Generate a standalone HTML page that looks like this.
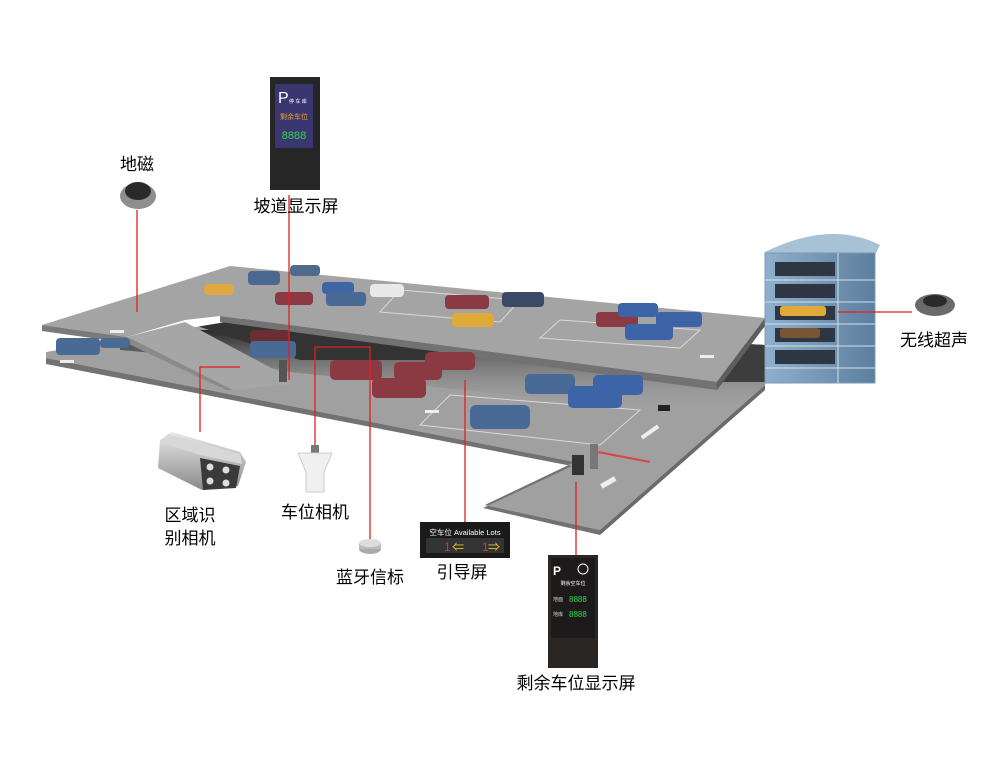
<!DOCTYPE html>
<html><head><meta charset="utf-8"><style>
html,body{margin:0;padding:0;background:#fff;}
svg{display:block}
text{font-family:"Liberation Sans","Noto Sans CJK SC",sans-serif;}
</style></head><body>
<svg width="1000" height="775" viewBox="0 0 1000 775" xmlns="http://www.w3.org/2000/svg">
<defs>
<linearGradient id="tw" x1="0" y1="0" x2="1" y2="0"><stop offset="0" stop-color="#8fb0cc"/><stop offset="1" stop-color="#5d7f9e"/></linearGradient>
<linearGradient id="cam" x1="0" y1="0" x2="0" y2="1"><stop offset="0" stop-color="#e8e8e8"/><stop offset="1" stop-color="#8a8a8a"/></linearGradient>
<linearGradient id="sh" x1="0" y1="0" x2="0" y2="1"><stop offset="0" stop-color="#2a2a2a"/><stop offset="1" stop-color="#9c9c9c" stop-opacity="0"/></linearGradient>
<clipPath id="ld"><polygon points="46,352 250,318 765,345 765,385 600,530 485,505 575,462 46,358"/></clipPath>
</defs>
<!-- lower deck -->
<polygon points="46,352 250,318 765,345 765,385 600,530 485,505 575,462 46,358" fill="#a0a0a0"/>
<polygon points="46,358 575,462 485,505 600,530 600,535 483,508 572,466 46,364" fill="#727272"/>
<polygon points="600,530 765,385 765,390 600,535" fill="#6a6a6a"/>
<!-- shadow under upper deck -->
<g clip-path="url(#ld)">
<polygon points="120,330 765,330 765,400 720,410 560,400 290,372 230,360 120,350" fill="url(#sh)"/>
<polygon points="185,322 220,316 470,345 440,360 300,360" fill="#333"/>
<polygon points="220,316 717,382 765,382 765,345 700,330" fill="#3d3d3d"/>
</g>
<!-- ramp -->
<polygon points="127,337 185,322 290,378 290,384 233,390" fill="#a6a6a6"/>
<polygon points="127,337 233,390 226,390 120,340" fill="#8a8a8a"/>
<!-- upper deck -->
<polygon points="42,325 230,266 765,318 717,382 220,316 185,320 127,337" fill="#a4a4a4"/>
<polygon points="42,325 127,337 127,343 42,331" fill="#7a7a7a"/>
<polygon points="220,316 717,382 717,390 220,322" fill="#727272"/>
<polygon points="717,382 765,318 765,326 717,390" fill="#5e5e5e"/>
<!-- parking lines -->
<g stroke="#e6e6e6" stroke-width="1" fill="none" opacity="0.8">
<polygon points="560,320 700,330 680,348 540,338"/>
<polygon points="400,290 520,300 500,322 380,312"/>
<polygon points="450,395 640,410 600,445 420,425"/>
</g>
<!-- cars -->
<g>
<rect x="204" y="284" width="30" height="11" rx="4" fill="#e0a940"/>
<rect x="248" y="271" width="32" height="14" rx="4" fill="#4a6890"/>
<rect x="290" y="265" width="30" height="11" rx="4" fill="#4f6a8a"/>
<rect x="275" y="292" width="38" height="13" rx="4" fill="#8b3a44"/>
<rect x="322" y="282" width="32" height="12" rx="4" fill="#3f67a8"/>
<rect x="326" y="292" width="40" height="14" rx="4" fill="#4a6a96"/>
<rect x="370" y="284" width="34" height="13" rx="4" fill="#e8e8ea"/>
<rect x="445" y="295" width="44" height="14" rx="4" fill="#8b3a44"/>
<rect x="502" y="292" width="42" height="15" rx="4" fill="#3a4a66"/>
<rect x="452" y="313" width="42" height="14" rx="4" fill="#e0aa38"/>
<rect x="596" y="312" width="42" height="15" rx="4" fill="#8b3a44"/>
<rect x="618" y="303" width="40" height="14" rx="4" fill="#3e64a8"/>
<rect x="656" y="312" width="46" height="15" rx="4" fill="#3e64a8"/>
<rect x="625" y="324" width="48" height="16" rx="4" fill="#3e64a8"/>
<rect x="56" y="338" width="44" height="17" rx="4" fill="#4a6a96"/>
<rect x="100" y="338" width="30" height="10" rx="4" fill="#4a6a96"/>
<rect x="250" y="330" width="40" height="14" rx="4" fill="#6a2e34"/>
<rect x="250" y="341" width="46" height="17" rx="4" fill="#4a6a96"/>
<rect x="330" y="360" width="52" height="20" rx="5" fill="#8b3a44"/>
<rect x="394" y="362" width="48" height="18" rx="5" fill="#8b3a44"/>
<rect x="372" y="378" width="54" height="20" rx="5" fill="#8b3a44"/>
<rect x="425" y="352" width="50" height="18" rx="5" fill="#8b3a44"/>
<rect x="525" y="374" width="50" height="20" rx="5" fill="#4a6a96"/>
<rect x="593" y="375" width="50" height="20" rx="5" fill="#3e64a8"/>
<rect x="568" y="386" width="54" height="22" rx="5" fill="#3e64a8"/>
<rect x="470" y="405" width="60" height="24" rx="6" fill="#4a6a96"/>
</g>
<!-- arrows / marks -->
<g fill="#eee">
<rect x="640" y="430" width="20" height="4" transform="rotate(-35 650 432)"/>
<rect x="600" y="480" width="16" height="5" transform="rotate(-30 608 482)"/>
<rect x="425" y="410" width="14" height="3"/>
<rect x="700" y="355" width="14" height="3"/>
<rect x="110" y="330" width="14" height="3"/>
<rect x="60" y="360" width="14" height="3"/>
</g>
<!-- gate -->
<rect x="572" y="455" width="12" height="20" fill="#333"/>
<rect x="590" y="444" width="8" height="25" fill="#777"/>
<line x1="598" y1="452" x2="650" y2="462" stroke="#d44" stroke-width="2"/>
<rect x="658" y="405" width="12" height="6" fill="#222"/>
<rect x="279" y="360" width="8" height="22" fill="#555"/>
<!-- tower -->
<path d="M765,252 Q830,220 880,245 L875,255 L765,255 Z" fill="#a7c2d6"/>
<rect x="765" y="253" width="110" height="130" fill="url(#tw)" stroke="#7a98b4"/>
<g fill="#2e3644">
<rect x="775" y="262" width="60" height="14"/><rect x="775" y="284" width="60" height="14"/>
<rect x="775" y="306" width="60" height="14"/><rect x="775" y="328" width="60" height="14"/>
<rect x="775" y="350" width="60" height="14"/>
</g>
<rect x="780" y="306" width="46" height="10" rx="3" fill="#e0aa38"/>
<rect x="780" y="328" width="40" height="10" rx="3" fill="#7a5533"/>
<g stroke="#cfe0ee" stroke-width="1">
<line x1="765" y1="280" x2="875" y2="280"/><line x1="765" y1="302" x2="875" y2="302"/>
<line x1="765" y1="324" x2="875" y2="324"/><line x1="765" y1="346" x2="875" y2="346"/>
<line x1="765" y1="368" x2="875" y2="368"/><line x1="838" y1="253" x2="838" y2="383"/>
</g>
<!-- red leader lines -->
<g stroke="#e02020" stroke-width="1.3" fill="none">
<line x1="137" y1="210" x2="137" y2="312"/>
<line x1="289" y1="195" x2="289" y2="380"/>
<line x1="838" y1="312" x2="912" y2="312"/>
<polyline points="200,432 200,367 240,367"/>
<polyline points="315,450 315,347 370,347 370,540"/>
<line x1="465" y1="380" x2="465" y2="522"/>
<line x1="576" y1="482" x2="576" y2="555"/>
</g>
<!-- 地磁 -->
<ellipse cx="138" cy="196" rx="18" ry="13" fill="#8e8e8e"/>
<ellipse cx="138" cy="191" rx="13" ry="9" fill="#2a2a2a"/>
<text x="137" y="170" font-size="17" text-anchor="middle">地磁</text>
<!-- 坡道显示屏 -->
<rect x="270" y="77" width="50" height="113" fill="#262626"/>
<rect x="275" y="84" width="38" height="64" fill="#3a3670"/>
<text x="278" y="103" font-size="16" fill="#fff">P</text>
<text x="289" y="103" font-size="5" fill="#fff">停 车 库</text>
<text x="294" y="119" font-size="7" fill="#e0a530" text-anchor="middle">剩余车位</text>
<text x="294" y="139" font-size="11" fill="#2fd84a" text-anchor="middle" font-family="Liberation Mono">8888</text>
<text x="296" y="212" font-size="17" text-anchor="middle">坡道显示屏</text>
<!-- 无线超声 -->
<ellipse cx="935" cy="305" rx="20" ry="11" fill="#6a6a6a"/>
<ellipse cx="935" cy="301" rx="12" ry="6" fill="#2a2a2a"/>
<text x="934" y="346" font-size="17" text-anchor="middle">无线超声</text>
<!-- camera -->
<polygon points="160,440 172,432 240,452 246,462 238,486 202,490 158,468" fill="url(#cam)"/>
<polygon points="168,434 240,454 242,464 200,455 160,442" fill="#d8d8d8"/>
<polygon points="200,458 240,466 236,488 203,490" fill="#3a3a3a"/>
<circle cx="210" cy="467" r="3.5" fill="#ddd"/><circle cx="226" cy="470" r="3.5" fill="#ddd"/>
<circle cx="210" cy="481" r="3.5" fill="#ddd"/><circle cx="226" cy="483" r="3.5" fill="#ddd"/>
<text x="190" y="521" font-size="17" text-anchor="middle">区域识</text>
<text x="190" y="544" font-size="17" text-anchor="middle">别相机</text>
<!-- 车位相机 -->
<rect x="311" y="445" width="8" height="8" fill="#777"/>
<path d="M298,453 L332,453 L324,472 L324,492 L306,492 L306,472 Z" fill="#f0f0f0" stroke="#ccc"/>
<text x="315" y="518" font-size="17" text-anchor="middle">车位相机</text>
<!-- 蓝牙信标 -->
<ellipse cx="370" cy="549" rx="11" ry="5" fill="#aaa"/>
<rect x="359" y="543" width="22" height="6" fill="#bbb"/>
<ellipse cx="370" cy="543" rx="11" ry="4" fill="#ddd"/>
<text x="370" y="583" font-size="17" text-anchor="middle">蓝牙信标</text>
<!-- 引导屏 -->
<rect x="420" y="522" width="90" height="36" fill="#1a1a1a"/>
<text x="465" y="535" font-size="7.5" fill="#fff" text-anchor="middle">空车位 Available Lots</text>
<rect x="426" y="538" width="78" height="15" fill="#333"/>
<text x="444" y="551" font-size="12" fill="#e0303a">1</text>
<text x="482" y="551" font-size="12" fill="#e0303a">1</text>
<text x="452" y="551" font-size="12" fill="#e8c230">⇐</text>
<text x="488" y="551" font-size="12" fill="#e8c230">⇒</text>
<text x="462" y="578" font-size="17" text-anchor="middle">引导屏</text>
<!-- 剩余车位显示屏 -->
<rect x="548" y="555" width="50" height="113" fill="#2a2624"/>
<rect x="551" y="558" width="44" height="80" fill="#1c1a1a"/>
<text x="553" y="575" font-size="12" fill="#fff" font-weight="bold">P</text>
<circle cx="583" cy="569" r="5" fill="none" stroke="#fff"/>
<text x="573" y="585" font-size="5" fill="#fff" text-anchor="middle">剩余空车位</text>
<text x="553" y="601" font-size="5" fill="#ddd">地面</text>
<text x="569" y="602" font-size="8" fill="#2fd84a" font-family="Liberation Mono">8888</text>
<text x="553" y="616" font-size="5" fill="#ddd">地库</text>
<text x="569" y="617" font-size="8" fill="#2fd84a" font-family="Liberation Mono">8888</text>
<text x="576" y="689" font-size="17" text-anchor="middle">剩余车位显示屏</text>
</svg>
</body></html>
